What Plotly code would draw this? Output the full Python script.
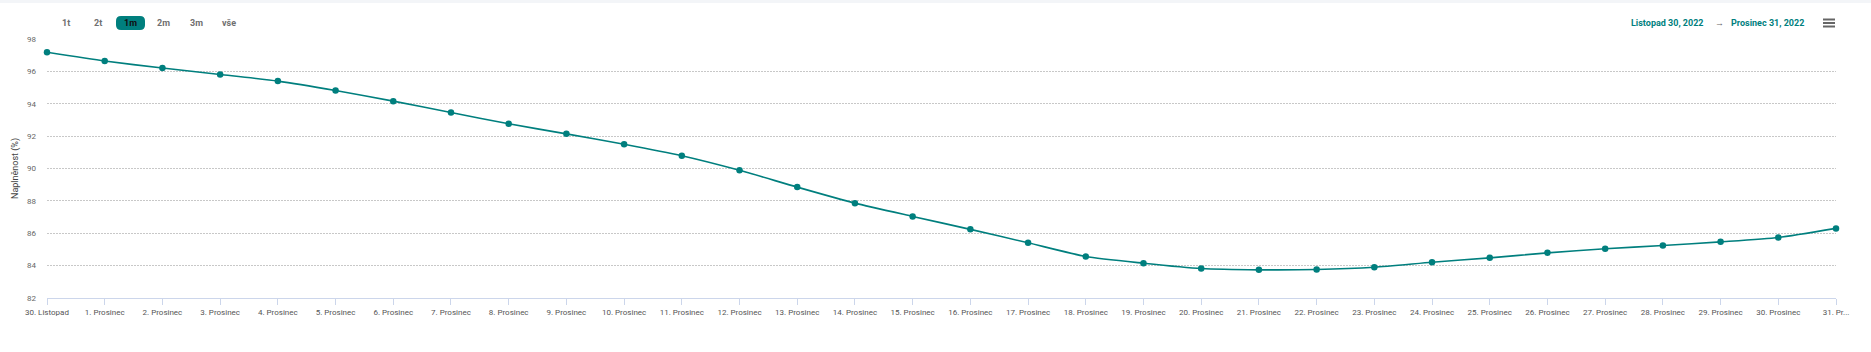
import plotly.graph_objects as go

categories = ["30. Listopad"] + [f"{d}. Prosinec" for d in range(1, 31)] + ["31. Pr..."]
values = [97.18, 96.64, 96.21, 95.81, 95.40, 94.82, 94.16, 93.46, 92.76, 92.14,
          91.50, 90.79, 89.89, 88.85, 87.86, 87.04, 86.24, 85.41, 84.56, 84.15,
          83.82, 83.74, 83.76, 83.90, 84.21, 84.48, 84.79, 85.04, 85.24, 85.47,
          85.74, 86.30]
y_ticks = [82, 84, 86, 88, 90, 92, 94, 96, 98]
buttons = ["1t", "2t", "1m", "2m", "3m", "vše"]
date_from = "Listopad 30, 2022"
date_to = "Prosinec 31, 2022"

TEAL = "#007f7e"
FONT = "Roboto"
L, R, T, B = 47, 35, 39, 54
W, H = 1871, 352

xs = list(range(len(categories)))

fig = go.Figure()
fig.add_trace(go.Scatter(
    x=xs, y=values, mode="lines+markers",
    line=dict(color=TEAL, width=1.6, shape="spline", smoothing=0.6),
    marker=dict(color=TEAL, size=6.5),
    cliponaxis=False, showlegend=False,
))

shapes = []
annotations = []

# top light band
shapes.append(dict(type="rect", xref="paper", yref="paper", xsizemode="pixel", ysizemode="pixel",
                   xanchor=0, yanchor=1, x0=-L, x1=W - L, y0=T, y1=T - 3,
                   fillcolor="#f3f5f8", line=dict(width=0), layer="below"))

# range selector buttons
btn_centers = [65.7, 98, 130.3, 163.3, 196, 228.7]
for lab, cx in zip(buttons, btn_centers):
    active = lab == "1m"
    if active:
        x0, x1 = 116 - L, 145 - L
        ya, yb = T - 30, T - 16
        r = 5
        path = (f"M {x0+r},{ya} L {x1-r},{ya} Q {x1},{ya} {x1},{ya+r} L {x1},{yb-r} "
                f"Q {x1},{yb} {x1-r},{yb} L {x0+r},{yb} Q {x0},{yb} {x0},{yb-r} "
                f"L {x0},{ya+r} Q {x0},{ya} {x0+r},{ya} Z")
        shapes.append(dict(type="path", xref="paper", yref="paper", xsizemode="pixel",
                           ysizemode="pixel", xanchor=0, yanchor=1, path=path,
                           fillcolor=TEAL, line=dict(width=0)))
    annotations.append(dict(
        text=f"<b>{lab}</b>", x=0, y=1, xref="paper", yref="paper",
        xshift=cx - L, yshift=T - 23, xanchor="center", yanchor="middle",
        showarrow=False,
        font=dict(family=FONT, size=9, color="#111111" if active else "#707070"),
    ))

# date range text
annotations.append(dict(text=f"<b>{date_from}</b>", x=1, y=1, xref="paper", yref="paper",
                        xshift=1667.4 - (W - R), yshift=T - 23, xanchor="center", yanchor="middle",
                        showarrow=False, font=dict(family=FONT, size=9, color=TEAL)))
annotations.append(dict(text="→", x=1, y=1, xref="paper", yref="paper",
                        xshift=1719 - (W - R), yshift=T - 23, xanchor="center", yanchor="middle",
                        showarrow=False, font=dict(family=FONT, size=9, color="#666666")))
annotations.append(dict(text=f"<b>{date_to}</b>", x=1, y=1, xref="paper", yref="paper",
                        xshift=1767.4 - (W - R), yshift=T - 23, xanchor="center", yanchor="middle",
                        showarrow=False, font=dict(family=FONT, size=9, color=TEAL)))

# hamburger menu
for py in (19.5, 23, 26.5):
    shapes.append(dict(type="line", xref="paper", yref="paper", xsizemode="pixel",
                       ysizemode="pixel", xanchor=1, yanchor=1,
                       x0=1823 - (W - R), x1=1835 - (W - R), y0=T - py, y1=T - py,
                       line=dict(color="#666666", width=2)))

fig.update_layout(
    width=W, height=H,
    margin=dict(l=L, r=R, t=T, b=B),
    paper_bgcolor="white", plot_bgcolor="white",
    font=dict(family=FONT, size=8, color="#666666"),
    shapes=shapes, annotations=annotations,
    xaxis=dict(
        range=[0, len(categories) - 1], tickmode="array", tickvals=xs, ticktext=categories,
        showgrid=False, zeroline=False, showline=True, linecolor="#ccd6eb", linewidth=1,
        ticks="outside", ticklen=6, tickcolor="#ccd6eb", tickwidth=1,
        tickfont=dict(family=FONT, size=8, color="#555555"), tickangle=0,
    ),
    yaxis=dict(
        range=[82, 98], tickmode="array", tickvals=y_ticks,
        showgrid=True, gridcolor="#c8c8c8", griddash="2px,1px", gridwidth=1,
        zeroline=False, showline=False, ticks="",
        tickfont=dict(family=FONT, size=8, color="#666666"), ticklabelstandoff=10,
        title=dict(text="Naplněnost (%)", font=dict(family=FONT, size=9, color="#444444"),
                   standoff=6),
    ),
)

fig.write_html("out.html")
